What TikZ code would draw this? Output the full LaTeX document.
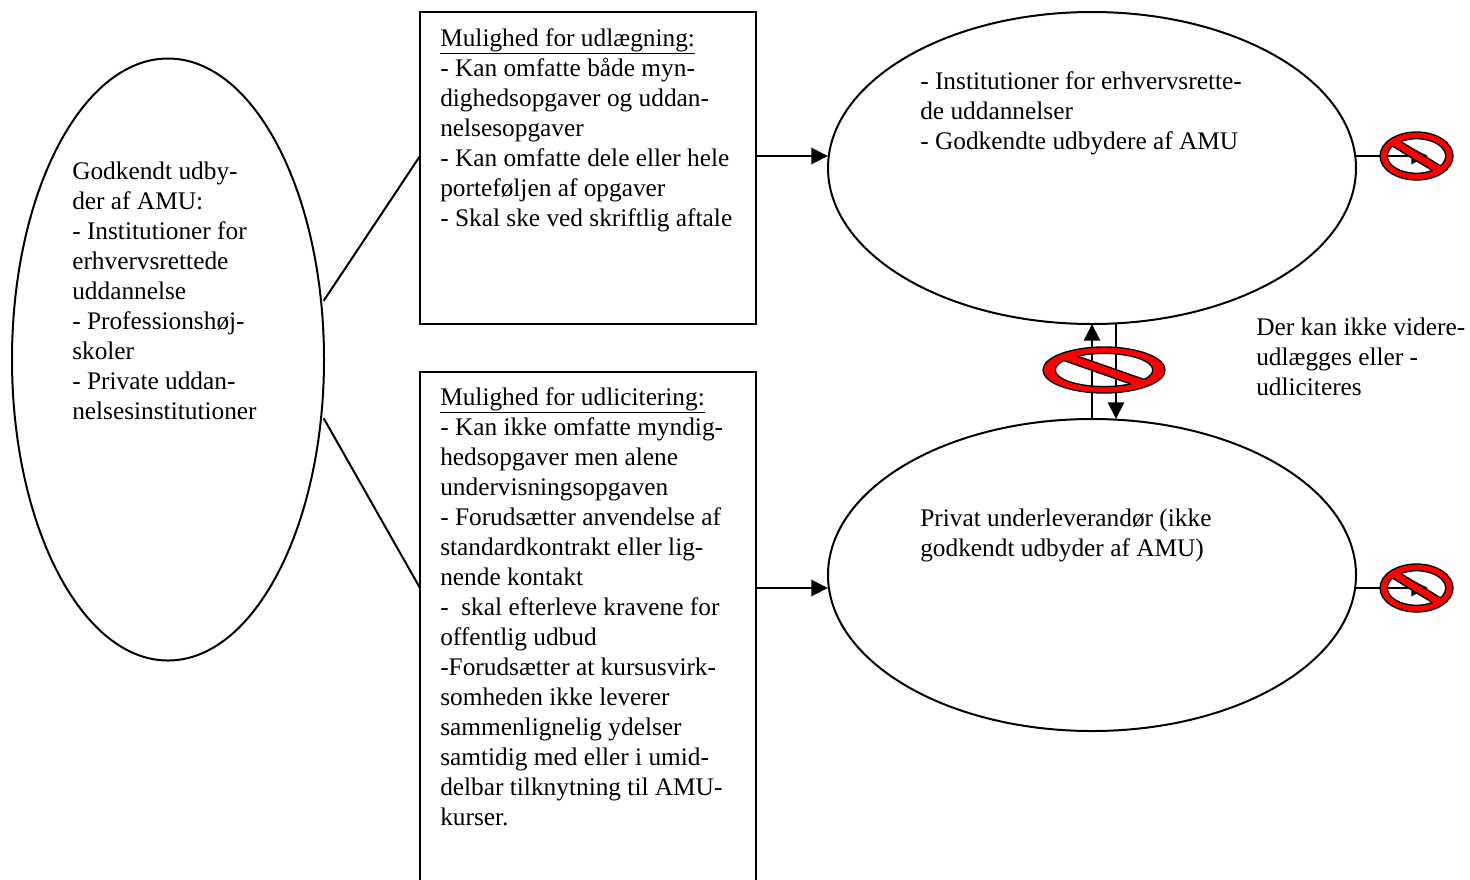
\documentclass[tikz,border=0pt]{standalone}
\usepackage{fontspec}
\setmainfont{Liberation Serif}
\usetikzlibrary{shapes.geometric,arrows.meta}
\tikzset{
  shapeline/.style={draw=black,line width=1.5pt},
  oval/.style={shapeline,ellipse,inner sep=0pt,outer sep=0pt,minimum width=#1},
  panel/.style={shapeline,rectangle,inner sep=0pt,outer sep=0pt,anchor=north west},
  link/.style={line width=1.5pt},
  arrowlink/.style={line width=2pt,-{Triangle[length=12.5pt,width=12pt]}},
  bodytext/.style={anchor=north west,inner sep=0pt,align=left,font=\fontsize{19}{22.5}\selectfont},
  signring/.style={fill=red,draw=black,line width=1pt,even odd rule},
}
% prohibition sign: centre x, centre y, radius x, radius y (picture units)
\newcommand{\nosign}[4]{%
  \begin{scope}[shift={(#1,#2)},x={(#3*0.75pt,0)},y={(0,-#4*0.75pt)}]
    \path[signring] (0,0) circle[radius=1] (0,0) ellipse[x radius=.8,y radius=.72];
    \fill[red] (-.47,-.64) -- (-.69,-.44) -- (.47,.64) -- (.69,.44) -- cycle;
    \draw[black,line width=1pt] (-.435,-.605) -- (.657,.411);
    \draw[black,line width=1pt] (-.657,-.411) -- (.435,.605);
  \end{scope}}
\begin{document}
\begin{tikzpicture}[x=0.75pt,y=-0.75pt]
\useasboundingbox (0,0) rectangle (1470,879);
\clip (0,0) rectangle (1470,879);
\fill[white] (0,0) rectangle (1470,879);

\node[oval=234pt,minimum height=451.5pt] (L) at (168,359.5) {};
\node[panel,minimum width=252pt,minimum height=234pt] (P1) at (420,12) {};
\node[panel,minimum width=252pt,minimum height=400pt] (P2) at (420,372) {};
\node[oval=396pt,minimum height=234pt] (E1) at (1092,168) {};
\node[oval=396pt,minimum height=234pt] (E2) at (1092,575) {};

\coordinate (p1in) at (420,156);
\coordinate (p1out) at (756,156);
\coordinate (e1in) at (828,156);
\coordinate (e1out) at (1356,156);
\coordinate (s1tip) at (1428,156);
\coordinate (p2in) at (420,588);
\coordinate (p2out) at (756,588);
\coordinate (e2in) at (828,588);
\coordinate (e2out) at (1356,588);
\coordinate (s2tip) at (1428,588);
\coordinate (upfrom) at (1092,419);
\coordinate (upto) at (1092,324);
\coordinate (downfrom) at (1116,324);
\coordinate (downto) at (1116,419);

\draw[link] ([xshift=2pt]L.21) -- (p1in);
\draw[link] ([xshift=2pt]L.-21.5) -- (p2in);
\draw[arrowlink] (p1out) -- (e1in);
\draw[arrowlink] (p2out) -- (e2in);
\draw[arrowlink] (e1out) -- (s1tip);
\draw[arrowlink] (e2out) -- (s2tip);
\draw[arrowlink] (upfrom) -- (upto);
\draw[arrowlink] (downfrom) -- (downto);

\nosign{1416.5}{156}{36.5}{24}
\nosign{1416.5}{588}{36.5}{24}
\nosign{1104}{370}{61}{23}

\node[bodytext] (tL) at (72,162) {Godkendt udby-\\der af AMU:\\- Institutioner for\\erhvervsrettede\\uddannelse\\- Professionshøj-\\skoler\\- Private uddan-\\nelsesinstitutioner};
\node[bodytext] (t1) at (440,28) {\underline{Mulighed for udlægning:}\\- Kan omfatte både myn-\\dighedsopgaver og uddan-\\nelsesopgaver\\- Kan omfatte dele eller hele\\porteføljen af opgaver\\- Skal ske ved skriftlig aftale};
\node[bodytext] (t2) at (440,387) {\underline{Mulighed for udlicitering:}\\- Kan ikke omfatte myndig-\\hedsopgaver men alene\\undervisningsopgaven\\- Forudsætter anvendelse af\\standardkontrakt eller lig-\\nende kontakt\\-\ \ skal efterleve kravene for\\offentlig udbud\\-Forudsætter at kursusvirk-\\somheden ikke leverer\\sammenlignelig ydelser\\samtidig med eller i umid-\\delbar tilknytning til AMU-\\kurser.};
\node[bodytext] (tE1) at (920,71) {- Institutioner for erhvervsrette-\\de uddannelser\\- Godkendte udbydere af AMU};
\node[bodytext] (tE2) at (920,509) {Privat underleverandør (ikke\\godkendt udbyder af AMU)};
\node[bodytext] (tR) at (1256,318) {Der kan ikke videre-\\udlægges eller -\\udliciteres};
\end{tikzpicture}
\end{document}
